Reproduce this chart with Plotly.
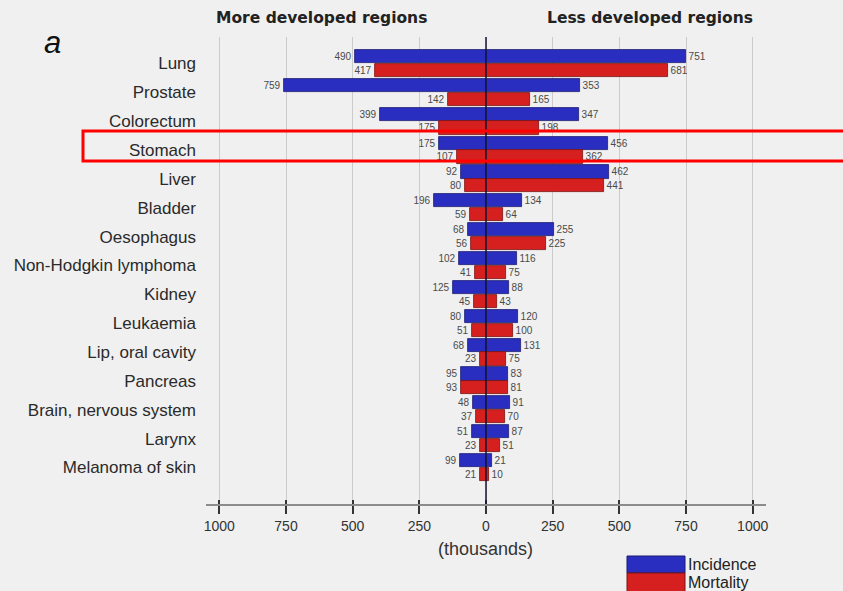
import plotly.graph_objects as go

# Cancer sites, top to bottom
sites = ["Lung", "Prostate", "Colorectum", "Stomach", "Liver", "Bladder",
         "Oesophagus", "Non-Hodgkin lymphoma", "Kidney", "Leukaemia",
         "Lip, oral cavity", "Pancreas", "Brain, nervous system", "Larynx",
         "Melanoma of skin"]

# New cases and deaths (thousands)
incidence_more = [490, 759, 399, 175, 92, 196, 68, 102, 125, 80, 68, 95, 48, 51, 99]
incidence_less = [751, 353, 347, 456, 462, 134, 255, 116, 88, 120, 131, 83, 91, 87, 21]
mortality_more = [417, 142, 175, 107, 80, 59, 56, 41, 45, 51, 23, 93, 37, 23, 21]
mortality_less = [681, 165, 198, 362, 441, 64, 225, 75, 43, 100, 75, 81, 70, 51, 10]

tick_vals = [-1000, -750, -500, -250, 0, 250, 500, 750, 1000]
tick_text = ["1000", "750", "500", "250", "0", "250", "500", "750", "1000"]

BLUE = "#2a2ec0"
RED = "#d62020"
BG = "#f0f0f0"

rows = list(range(len(sites)))
OFF = 0.24
BAR_W = 0.46


def mirrored(more, less, shift):
    xs = [-v for v in more] + list(less)
    ys = [r + shift for r in rows] * 2
    txt = [str(v) for v in more] + [str(v) for v in less]
    return xs, ys, txt


fig = go.Figure()
for name, more, less, shift, color, line in [
    ("Incidence", incidence_more, incidence_less, -OFF, BLUE, "#1b1b70"),
    ("Mortality", mortality_more, mortality_less, OFF, RED, "#7a1212"),
]:
    xs, ys, txt = mirrored(more, less, shift)
    fig.add_trace(go.Bar(
        x=xs, y=ys, orientation="h", width=BAR_W, name=name,
        marker=dict(color=color, line=dict(color=line, width=0.8)),
        text=txt, textposition="outside", constraintext="none",
        textfont=dict(family="Liberation Sans, Arial, sans-serif", size=10, color="#4a4a4a"),
        cliponaxis=False, showlegend=False, hoverinfo="skip",
    ))

# companion axis that carries the upward half of each tick mark
fig.add_trace(go.Scatter(x=[], y=[], xaxis="x2", yaxis="y", showlegend=False))

# plot-area geometry in pixels (used to place paper-referenced decorations)
L, R, T, B = 206, 766, 37, 504
W, H = R - L, B - T


def px(x):
    return (x - L) / W


def py(y):
    return (B - y) / H


fig.update_layout(
    width=843, height=591,
    margin=dict(l=L, r=843 - R, t=T, b=591 - B, pad=0),
    paper_bgcolor=BG, plot_bgcolor=BG,
    barmode="overlay",
    bargap=0,
    xaxis=dict(
        range=[-1050, 1050], tickvals=tick_vals, ticktext=tick_text,
        showgrid=True, gridcolor="#cbcbcb", gridwidth=1.2,
        zeroline=False,
        showline=True, linecolor="#8c8c8c", linewidth=2,
        ticks="outside", ticklen=8, tickwidth=1.5, tickcolor="#333333",
        tickfont=dict(family="Liberation Sans, Arial, sans-serif", size=14, color="#333333"),
        fixedrange=True,
    ),
    xaxis2=dict(
        range=[-1050, 1050], overlaying="x", anchor="y", side="bottom",
        tickvals=tick_vals, showticklabels=False, showgrid=False, zeroline=False,
        ticks="inside", ticklen=4, tickwidth=1.5, tickcolor="#333333",
        showline=False,
    ),
    yaxis=dict(
        range=[15.265, -0.918], tickvals=rows, ticktext=sites,
        showgrid=False, zeroline=False, showline=False,
        ticks="", ticklabelstandoff=9,
        tickfont=dict(family="Liberation Sans, Arial, sans-serif", size=17, color="#2a2a2a"),
        fixedrange=True,
    ),
    font=dict(family="Liberation Sans, Arial, sans-serif"),
)

shapes = [
    # zero line drawn over the bars
    dict(type="line", xref="x", yref="paper", x0=0, x1=0, y0=0, y1=1,
         line=dict(color="#151535", width=1.5), layer="above"),
    # highlight frame around the Stomach row
    dict(type="rect", xref="paper", yref="paper",
         x0=px(83), x1=px(845), y0=py(161), y1=py(131),
         line=dict(color="#ff0000", width=3), fillcolor="rgba(0,0,0,0)", layer="above"),
    # legend swatches
    dict(type="rect", xref="paper", yref="paper",
         x0=px(627), x1=px(685), y0=py(573), y1=py(556),
         line=dict(color="#1b1b70", width=1), fillcolor=BLUE),
    dict(type="rect", xref="paper", yref="paper",
         x0=px(627), x1=px(685), y0=py(592), y1=py(573),
         line=dict(color="#7a1212", width=1), fillcolor=RED),
]
fig.update_layout(shapes=shapes)

hdr = dict(family="DejaVu Sans, Verdana, sans-serif", size=15.5, color="#222222")
lab = dict(family="Liberation Sans, Arial, sans-serif", size=16, color="#222222")
annotations = [
    dict(text="<b>More developed regions</b>", x=px(321), y=py(18), font=hdr),
    dict(text="<b>Less developed regions</b>", x=px(649.5), y=py(18), font=hdr),
    dict(text="<i>a</i>", x=px(52), y=py(43),
         font=dict(family="Liberation Sans, Arial, sans-serif", size=31, color="#111111")),
    dict(text="(thousands)", x=px(485), y=py(549),
         font=dict(family="Liberation Sans, Arial, sans-serif", size=18, color="#333333")),
    dict(text="Incidence", x=px(686), y=py(564), xanchor="left", font=lab),
    dict(text="Mortality", x=px(686), y=py(582), xanchor="left", font=lab),
]
for a in annotations:
    a.setdefault("xanchor", "center")
    a.update(xref="paper", yref="paper", yanchor="middle", showarrow=False)
fig.update_layout(annotations=annotations)

fig.write_html("out.html")
